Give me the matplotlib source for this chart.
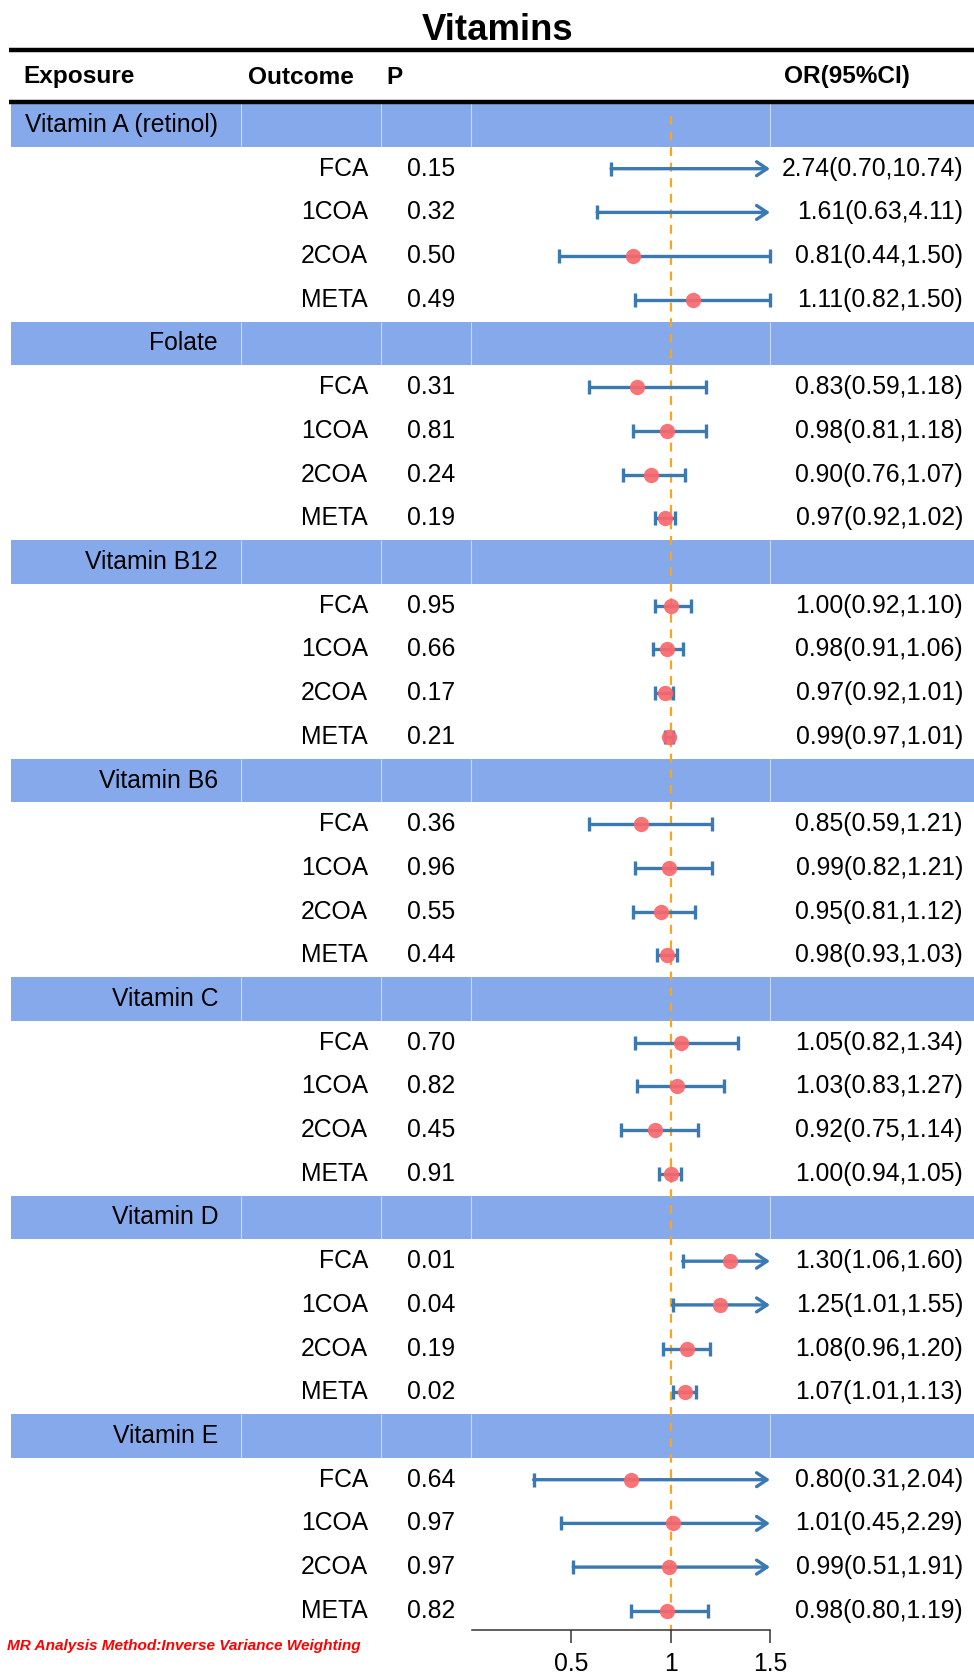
import matplotlib
matplotlib.use("Agg")
import matplotlib.pyplot as plt
import numpy as np

plt.rcParams['font.family'] = ['Liberation Sans', 'DejaVu Sans']

# ---------------- data ----------------
groups = ["Vitamin A (retinol)", "Folate", "Vitamin B12", "Vitamin B6",
          "Vitamin C", "Vitamin D", "Vitamin E"]
outcomes = ["FCA", "1COA", "2COA", "META"]

p_vals = [
    [0.15, 0.32, 0.50, 0.49],
    [0.31, 0.81, 0.24, 0.19],
    [0.95, 0.66, 0.17, 0.21],
    [0.36, 0.96, 0.55, 0.44],
    [0.70, 0.82, 0.45, 0.91],
    [0.01, 0.04, 0.19, 0.02],
    [0.64, 0.97, 0.97, 0.82],
]
or_vals = [
    [2.74, 1.61, 0.81, 1.11],
    [0.83, 0.98, 0.90, 0.97],
    [1.00, 0.98, 0.97, 0.99],
    [0.85, 0.99, 0.95, 0.98],
    [1.05, 1.03, 0.92, 1.00],
    [1.30, 1.25, 1.08, 1.07],
    [0.80, 1.01, 0.99, 0.98],
]
ci_low = [
    [0.70, 0.63, 0.44, 0.82],
    [0.59, 0.81, 0.76, 0.92],
    [0.92, 0.91, 0.92, 0.97],
    [0.59, 0.82, 0.81, 0.93],
    [0.82, 0.83, 0.75, 0.94],
    [1.06, 1.01, 0.96, 1.01],
    [0.31, 0.45, 0.51, 0.80],
]
ci_high = [
    [10.74, 4.11, 1.50, 1.50],
    [1.18, 1.18, 1.07, 1.02],
    [1.10, 1.06, 1.01, 1.01],
    [1.21, 1.21, 1.12, 1.03],
    [1.34, 1.27, 1.14, 1.05],
    [1.60, 1.55, 1.20, 1.13],
    [2.04, 2.29, 1.91, 1.19],
]
x_ticks = [0.5, 1, 1.5]
x_tick_labels = ["0.5", "1", "1.5"]
x_max = 1.5

# ---------------- layout ----------------
W, H = 974, 1673
ROW0, ROWH = 125.0, 43.7          # pixel centre of first row, row height
def px_to_row(p):
    return (p - ROW0) / ROWH

fig = plt.figure(figsize=(W / 100, H / 100), dpi=100)
fig.patch.set_facecolor("white")

# table axes covering the whole figure (x in pixels, y in rows)
axt = fig.add_axes([0, 0, 1, 1])
axt.set_xlim(0, W)
axt.set_ylim(px_to_row(H), px_to_row(0))
axt.axis("off")

BAND = "#86A9EB"
BLUE = "#3B79B2"
RED = "#F8686C"
ORANGE = "#F5A623"
FS = 17.8
FSH = 17.6

group_rows = [g * 5 for g in range(len(groups))]
axt.barh(group_rows, width=W - 11, left=11, height=1.0, color=BAND,
         edgecolor="none", zorder=1)
for r in group_rows:
    axt.vlines([241, 381, 471, 770], r - 0.5, r + 0.5, color="white",
               lw=0.8, alpha=0.55, zorder=2)

# title & header
axt.text(498, px_to_row(30), "Vitamins", ha="center", va="center",
         fontsize=26.3, fontweight="bold")
axt.hlines([px_to_row(50), px_to_row(102)], 9, W, color="black", lw=3.2, zorder=3)
hy = px_to_row(77)
axt.text(23, hy, "Exposure", ha="left", va="center", fontsize=FSH, fontweight="bold")
axt.text(248, hy, "Outcome", ha="left", va="center", fontsize=FSH, fontweight="bold")
axt.text(386, hy, "P", ha="left", va="center", fontsize=FSH, fontweight="bold")
axt.text(784, hy, "OR(95%CI)", ha="left", va="center", fontsize=FSH, fontweight="bold")

rows_y, or_all, lo_all, hi_all = [], [], [], []
for g, name in enumerate(groups):
    gr = group_rows[g]
    axt.text(218, gr, name, ha="right", va="center", fontsize=FS, zorder=4)
    for k, oc in enumerate(outcomes):
        y = gr + 1 + k
        axt.text(368, y, oc, ha="right", va="center", fontsize=FS)
        axt.text(407, y, f"{p_vals[g][k]:.2f}", ha="left", va="center", fontsize=FS)
        axt.text(963, y, f"{or_vals[g][k]:.2f}({ci_low[g][k]:.2f},{ci_high[g][k]:.2f})",
                 ha="right", va="center", fontsize=FS)
        rows_y.append(y)
        or_all.append(or_vals[g][k])
        lo_all.append(ci_low[g][k])
        hi_all.append(ci_high[g][k])

rows_y = np.array(rows_y)
or_all = np.array(or_all)
lo_all = np.array(lo_all)
hi_all = np.array(hi_all)

axt.text(7, px_to_row(1646), "MR Analysis Method:Inverse Variance Weighting",
         ha="left", va="center", fontsize=11.1, fontweight="bold",
         fontstyle="italic", color="red")

# ---------------- forest axes ----------------
left_px, right_px = 472, 770
top_px, bot_px = ROW0 - 0.5 * ROWH, 1630
axf = fig.add_axes([left_px / W, 1 - bot_px / H,
                    (right_px - left_px) / W, (bot_px - top_px) / H])
axf.set_facecolor("none")
axf.set_xlim(0, x_max)
axf.set_ylim(px_to_row(bot_px), px_to_row(top_px))
for s in ["top", "right", "left"]:
    axf.spines[s].set_visible(False)
axf.spines["bottom"].set_linewidth(1.1)
axf.spines["bottom"].set_color("#333333")
axf.set_yticks([])
axf.set_xticks(x_ticks)
axf.set_xticklabels(x_tick_labels, fontsize=FS)
axf.tick_params(axis="x", direction="out", length=9, width=1.1,
                color="#333333", pad=7)

# reference line at OR = 1
axf.plot([1, 1], [px_to_row(116), px_to_row(bot_px)], color=ORANGE, lw=1.6,
         dashes=(4, 3), zorder=1, clip_on=False)

inside = hi_all <= x_max
# complete intervals
axf.errorbar(or_all[inside], rows_y[inside],
             xerr=[or_all[inside] - lo_all[inside], hi_all[inside] - or_all[inside]],
             fmt="none", ecolor=BLUE, elinewidth=2.4, capsize=5, capthick=2.4,
             zorder=2, clip_on=False)
# intervals running past the axis: arrow at the right end
for y, lo in zip(rows_y[~inside], lo_all[~inside]):
    axf.annotate("", xy=(x_max, y), xytext=(lo, y),
                 arrowprops=dict(arrowstyle="->,head_length=0.75,head_width=0.5",
                                 color=BLUE, lw=2.4, shrinkA=0, shrinkB=0),
                 zorder=2, annotation_clip=False)
axf.plot(lo_all[~inside], rows_y[~inside], ls="none", marker="|", ms=10,
         mew=2.4, color=BLUE, zorder=2, clip_on=False)

# point estimates
show = or_all <= x_max
axf.plot(or_all[show], rows_y[show], ls="none", marker="o", ms=11,
         color=RED, mec="none", alpha=0.92, zorder=3, clip_on=False)

fig.savefig("out.png", dpi=100, facecolor="white")
